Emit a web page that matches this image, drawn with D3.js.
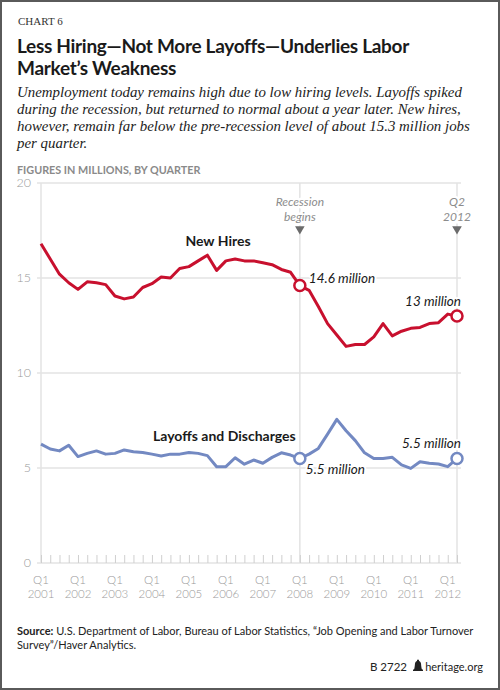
<!DOCTYPE html>
<html>
<head>
<meta charset="utf-8">
<script src="https://cdn.jsdelivr.net/npm/d3@7"></script>
<style>
  body { margin: 0; background: #fff; }
  svg { display: block; }
</style>
</head>
<body>
<script>
var width = 500,
    height = 690;

// quarterly data, Q1 2001 .. Q2 2012 (millions)
var newHires = [16.8, 16.0, 15.2, 14.75, 14.4, 14.8, 14.75, 14.65, 14.05, 13.9,
                14.0, 14.5, 14.7, 15.05, 15.0, 15.5, 15.6, 15.9, 16.2, 15.4,
                15.9, 16.0, 15.9, 15.9, 15.8, 15.7, 15.45, 15.3, 14.6, 14.35,
                13.5, 12.6, 12.0, 11.4, 11.5, 11.5, 11.9, 12.6, 11.95, 12.2,
                12.35, 12.4, 12.6, 12.65, 13.1, 13.0];
var layoffs = [6.26, 6.0, 5.9, 6.2, 5.6, 5.77, 5.9, 5.73, 5.77, 5.95,
               5.86, 5.82, 5.73, 5.63, 5.73, 5.73, 5.82, 5.77, 5.65, 5.07,
               5.07, 5.54, 5.2, 5.42, 5.25, 5.56, 5.8, 5.68, 5.5, 5.73,
               6.03, 6.78, 7.56, 6.96, 6.44, 5.8, 5.5, 5.5, 5.56, 5.16,
               4.98, 5.33, 5.25, 5.21, 5.07, 5.5];
var yearLabels = ["2001", "2002", "2003", "2004", "2005", "2006",
                  "2007", "2008", "2009", "2010", "2011", "2012"];
var yTicks = [0, 5, 10, 15, 20];
var recessionIdx = 28,   // Q1 2008
    lastIdx = 45;        // Q2 2012

var red = "#c8102e",
    blue = "#7389c2",
    grid = "#e3e3e3",
    grayText = "#9a9a9a";

var svg = d3.select("body").append("svg")
    .attr("width", width)
    .attr("height", height);

// frame
svg.append("rect")
    .attr("x", 1).attr("y", 1)
    .attr("width", width - 2).attr("height", height - 2)
    .attr("fill", "none").attr("stroke", "#5a5a5a").attr("stroke-width", 2);

// header
svg.append("text").attr("x", 18).attr("y", 25)
    .style("font", "11px 'Liberation Serif', serif")
    .attr("fill", "#333")
    .text("CHART 6");

var title = svg.append("text")
    .style("font", "bold 19px Lato, sans-serif")
    .style("letter-spacing", "-0.3px")
    .attr("fill", "#1a1a1a");
title.append("tspan").attr("x", 17).attr("y", 53).text("Less Hiring\u2014Not More Layoffs\u2014Underlies Labor");
title.append("tspan").attr("x", 17).attr("y", 75).text("Market\u2019s Weakness");

var sub = svg.append("text")
    .style("font", "italic 14.9px 'Liberation Serif', serif")
    .attr("fill", "#222");
["Unemployment today remains high due to low hiring levels. Layoffs spiked",
 "during the recession, but returned to normal about a year later. New hires,",
 "however, remain far below the pre-recession level of about 15.3 million jobs",
 "per quarter."].forEach(function(t, i) {
  sub.append("tspan").attr("x", 17).attr("y", 97 + i * 17).text(t);
});

svg.append("text").attr("x", 17).attr("y", 174)
    .style("font", "bold 10.8px Lato, sans-serif")
    .attr("fill", "#8a8a8a")
    .text("FIGURES IN MILLIONS, BY QUARTER");

// scales
var x = d3.scaleLinear().domain([0, 45]).range([41, 457]);
var y = d3.scaleLinear().domain([0, 20]).range([563, 183]);

// horizontal grid
svg.append("g").selectAll("line")
    .data(yTicks)
  .enter().append("line")
    .attr("x1", 37).attr("x2", 461)
    .attr("y1", function(d) { return y(d); })
    .attr("y2", function(d) { return y(d); })
    .attr("stroke", grid).attr("stroke-width", 1.5);

svg.append("g").selectAll("text")
    .data(yTicks)
  .enter().append("text")
    .attr("x", 31)
    .attr("y", function(d) { return y(d); })
    .attr("dy", "0.35em")
    .attr("text-anchor", "end")
    .style("font", "300 12.5px Lato, sans-serif")
    .attr("fill", grayText)
    .text(function(d) { return d; });

// vertical lines: axis, recession start, latest quarter
svg.append("g").selectAll("line")
    .data([0, recessionIdx, lastIdx])
  .enter().append("line")
    .attr("x1", function(d) { return x(d); })
    .attr("x2", function(d) { return x(d); })
    .attr("y1", y(20)).attr("y2", y(0))
    .attr("stroke", grid).attr("stroke-width", 1.5);

// quarterly minor ticks
svg.append("g")
    .attr("transform", "translate(0," + y(0) + ")")
    .call(d3.axisBottom(x).tickValues(d3.range(0, 46)).tickSize(-8).tickFormat(""))
    .call(function(g) { g.select(".domain").remove(); })
    .selectAll("line").attr("stroke", "#cfcfcf").attr("stroke-width", 1);

// year labels
var yr = svg.append("g").selectAll("text")
    .data(yearLabels)
  .enter().append("text")
    .attr("text-anchor", "middle")
    .style("font", "300 11.5px Lato, sans-serif")
    .attr("fill", grayText);
yr.append("tspan")
    .attr("x", function(d, i) { return x(i * 4); })
    .attr("y", 584).text("Q1");
yr.append("tspan")
    .attr("x", function(d, i) { return x(i * 4); })
    .attr("y", 598).text(function(d) { return d; });

// annotations above the vertical lines
function topNote(idx, lines) {
  var t = svg.append("text")
      .attr("text-anchor", "middle")
      .style("font", "italic 12px Lato, sans-serif")
      .attr("fill", "#8c8c8c")
      .attr("stroke", "#fff").attr("stroke-width", 5)
      .attr("paint-order", "stroke");
  lines.forEach(function(l, i) {
    t.append("tspan").attr("x", x(idx)).attr("y", 206 + i * 14.6).text(l);
  });
  svg.append("path")
      .attr("d", d3.symbol().type(d3.symbolTriangle).size(40))
      .attr("transform", "translate(" + x(idx) + ",229) rotate(180)")
      .attr("fill", "#6b6b6b");
}
topNote(recessionIdx, ["Recession", "begins"]);
topNote(lastIdx, ["Q2", "2012"]);

// lines
var line = d3.line()
    .x(function(d, i) { return x(i); })
    .y(function(d) { return y(d); });

svg.append("path").datum(layoffs)
    .attr("d", line)
    .attr("fill", "none").attr("stroke", blue)
    .attr("stroke-width", 3).attr("stroke-linejoin", "round");

svg.append("path").datum(newHires)
    .attr("d", line)
    .attr("fill", "none").attr("stroke", red)
    .attr("stroke-width", 3).attr("stroke-linejoin", "round");

// highlighted points
var marks = [
  {s: newHires, i: recessionIdx, c: red},
  {s: newHires, i: lastIdx, c: red},
  {s: layoffs, i: recessionIdx, c: blue},
  {s: layoffs, i: lastIdx, c: blue}
];
svg.append("g").selectAll("circle")
    .data(marks)
  .enter().append("circle")
    .attr("cx", function(d) { return x(d.i); })
    .attr("cy", function(d) { return y(d.s[d.i]); })
    .attr("r", 5.5)
    .attr("fill", "#fff")
    .attr("stroke", function(d) { return d.c; })
    .attr("stroke-width", 2.5);

// labels
function label(txt, px, py, anchor, style) {
  svg.append("text")
      .attr("x", px).attr("y", py)
      .attr("text-anchor", anchor)
      .style("font", style)
      .attr("fill", "#1a1a1a")
      .attr("stroke", "#fff").attr("stroke-width", 4)
      .attr("paint-order", "stroke")
      .text(txt);
}
label("New Hires", 218, 246, "middle", "bold 14px Lato, sans-serif");
label("Layoffs and Discharges", 153, 441, "start", "bold 14px Lato, sans-serif");
label("14.6 million", x(recessionIdx) + 9, y(newHires[recessionIdx]) - 3, "start", "italic 13.5px Lato, sans-serif");
label("13 million", x(lastIdx) + 4, y(newHires[lastIdx]) - 10, "end", "italic 13.5px Lato, sans-serif");
label("5.5 million", x(recessionIdx) + 6, y(layoffs[recessionIdx]) + 15, "start", "italic 13.5px Lato, sans-serif");
label("5.5 million", x(lastIdx) + 4, y(layoffs[lastIdx]) - 11, "end", "italic 13.5px Lato, sans-serif");

// footer
var src = svg.append("text")
    .style("font", "11px Lato, sans-serif")
    .attr("fill", "#222");
var l1 = src.append("tspan").attr("x", 17).attr("y", 635);
l1.append("tspan").style("font-weight", "bold").text("Source:");
l1.append("tspan").text(" U.S. Department of Labor, Bureau of Labor Statistics, \u201cJob Opening and Labor Turnover");
src.append("tspan").attr("x", 17).attr("y", 649).text("Survey\u201d/Haver Analytics.");

svg.append("text").attr("x", 483).attr("y", 671)
    .attr("text-anchor", "end")
    .style("font", "11px Lato, sans-serif")
    .attr("fill", "#222")
    .text("heritage.org");

// small bell logo
svg.append("path")
    .attr("d", "M413,671 h10 v-1.5 h-1 c-0.5,-1 -0.8,-4 -1,-6 c-0.3,-1.5 -1.2,-2.3 -2,-2.5 v-1.2 h-2 v1.2 c-0.8,0.2 -1.7,1 -2,2.5 c-0.2,2 -0.5,5 -1,6 h-1 z")
    .attr("fill", "#222");

svg.append("text").attr("x", 407).attr("y", 671)
    .attr("text-anchor", "end")
    .style("font", "11.5px Lato, sans-serif")
    .attr("fill", "#222")
    .text("B 2722");
</script>
</body>
</html>
